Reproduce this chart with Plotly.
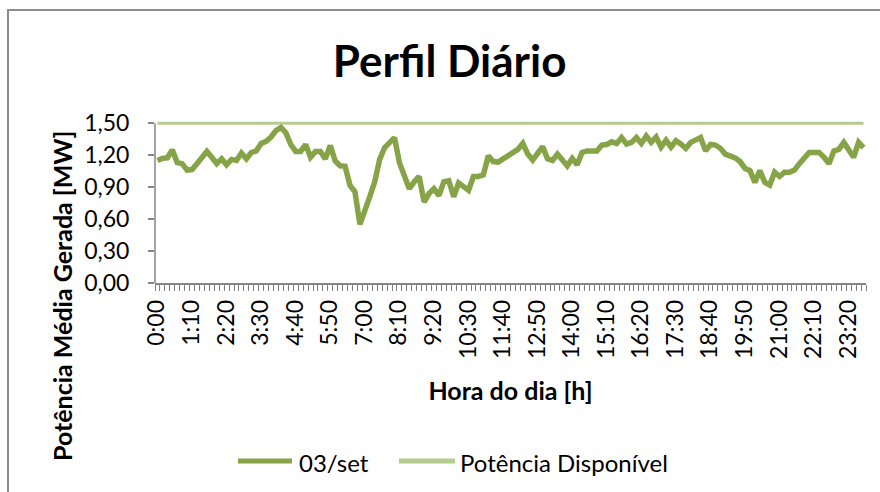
import plotly.graph_objects as go

# 10-minute intervals, 0:00 .. 23:50
times = [f"{h}:{m:02d}" for h in range(24) for m in range(0, 60, 10)]

generated = [
    1.15, 1.17, 1.175, 1.25, 1.13, 1.12, 1.06, 1.065, 1.12, 1.18,
    1.235, 1.18, 1.12, 1.165, 1.11, 1.16, 1.15, 1.22, 1.165, 1.225,
    1.24, 1.31, 1.33, 1.37, 1.43, 1.46, 1.41, 1.30, 1.235, 1.235,
    1.30, 1.18, 1.235, 1.235, 1.165, 1.29, 1.145, 1.10, 1.095, 0.915,
    0.855, 0.55, 0.67, 0.81, 0.95, 1.16, 1.27, 1.32, 1.365, 1.13,
    1.01, 0.885, 0.95, 1.00, 0.76, 0.84, 0.885, 0.82, 0.95, 0.96,
    0.81, 0.94, 0.905, 0.87, 1.00, 1.00, 1.015, 1.195, 1.14, 1.135,
    1.165, 1.195, 1.225, 1.255, 1.31, 1.21, 1.155, 1.21, 1.28, 1.165,
    1.15, 1.21, 1.15, 1.10, 1.17, 1.11, 1.225, 1.24, 1.24, 1.24,
    1.295, 1.30, 1.325, 1.31, 1.365, 1.305, 1.32, 1.365, 1.31, 1.38,
    1.32, 1.37, 1.275, 1.34, 1.275, 1.335, 1.305, 1.265, 1.32, 1.345,
    1.365, 1.24, 1.30, 1.295, 1.265, 1.21, 1.195, 1.175, 1.14, 1.075,
    1.055, 0.945, 1.055, 0.945, 0.92, 1.04, 1.00, 1.04, 1.04, 1.06,
    1.12, 1.18, 1.225, 1.225, 1.225, 1.18, 1.12, 1.24, 1.255, 1.32,
    1.24, 1.18, 1.32, 1.27,
]
available = [1.50] * len(times)

series_names = ["03/set", "Potência Disponível"]
series_colors = ["#86A447", "#B4CC90"]

label_step = 7
y_ticks = [0.0, 0.3, 0.6, 0.9, 1.2, 1.5]

FONT = "Lato"
idx = list(range(len(times)))

# plot-area geometry (pixels)
L, R, T, B = 155, 14, 120, 209
PW = 880 - L - R
PH = 492 - T - B
Y0 = 492 - B  # pixel row of the x axis


def px(x):
    return (x - L) / PW


def py(y):
    return (Y0 - y) / PH


fig = go.Figure()
fig.add_trace(go.Scatter(
    x=idx, y=available, mode="lines", name=series_names[1],
    line=dict(color=series_colors[1], width=3), showlegend=False,
))
fig.add_trace(go.Scatter(
    x=idx, y=generated, mode="lines", name=series_names[0],
    line=dict(color=series_colors[0], width=5.5), showlegend=False,
))

n = len(times)
xrange = [-0.5, n - 0.5]
# Excel-style: tick marks on category boundaries, labels every 7th category
boundaries = [i - 0.5 for i in range(n + 1)]
boundary_text = [times[i] if (i < n and i % label_step == 0) else "" for i in range(n + 1)]
slot_px = PW / n

fig.update_layout(
    width=880, height=492,
    margin=dict(l=L, r=R, t=T, b=B, autoexpand=False),
    paper_bgcolor="white", plot_bgcolor="white",
    separators=",.",
    font=dict(family=FONT, color="black", size=22),
    title=dict(text="<b>Perfil Diário</b>", font=dict(size=44, family=FONT),
               x=0.511, xref="container", xanchor="center",
               y=1 - 62 / 492, yref="container", yanchor="middle"),
    showlegend=False,
    xaxis=dict(
        range=xrange,
        tickmode="array",
        tickvals=boundaries,
        ticktext=boundary_text,
        ticklabelshift=int(round(slot_px / 2)),
        tickangle=-90,
        ticks="outside", ticklen=6, tickcolor="#808080", tickwidth=1,
        tickfont=dict(size=23, family=FONT),
        showline=True, linecolor="#868686", linewidth=1.5,
        showgrid=False, zeroline=False, automargin=False,
        title=dict(text="<b>Hora do dia [h]</b>", font=dict(size=25, family=FONT), standoff=24),
    ),
    yaxis=dict(
        range=[0, 1.53],
        tickmode="array",
        tickvals=y_ticks,
        tickformat=".2f",
        ticks="outside", ticklen=6, tickcolor="#868686", tickwidth=1.5,
        ticklabelstandoff=14,
        tickfont=dict(size=23, family=FONT),
        showline=False, showgrid=False, zeroline=False, automargin=False,
    ),
)

# y axis line stopping at 1.50
fig.add_shape(type="line", xref="paper", yref="y", x0=0, x1=0, y0=0, y1=1.5,
              line=dict(color="#868686", width=1.5))

# y axis title (positioned like the Excel chart)
fig.add_annotation(text="<b>Potência Média Gerada [MW]</b>", textangle=-90,
                   xref="paper", yref="paper", x=px(62), y=py(296),
                   xanchor="center", yanchor="middle", showarrow=False,
                   font=dict(size=25, family=FONT))

# legend (drawn like the Excel one: long line keys)
legend_keys = [(238, 292, 297), (399, 455, 458)]
for (k0, k1, tx), name, col in zip(legend_keys, series_names, series_colors):
    fig.add_shape(type="line", xref="paper", yref="paper",
                  x0=px(k0), x1=px(k1), y0=py(461), y1=py(461),
                  line=dict(color=col, width=5))
    fig.add_annotation(text=name, xref="paper", yref="paper", x=px(tx), y=py(462),
                       xanchor="left", yanchor="middle", showarrow=False,
                       font=dict(size=24, family=FONT))

# chart area border (top and left edges visible; right/bottom run off the picture)
fig.add_shape(type="rect", xref="paper", yref="paper",
              x0=px(8), x1=px(890), y0=py(500), y1=py(10),
              line=dict(color="#8C8C8C", width=2), fillcolor="rgba(0,0,0,0)", layer="below")

fig.write_html("out.html", config={"displayModeBar": False},
               post_script="document.body.style.margin='0';")
